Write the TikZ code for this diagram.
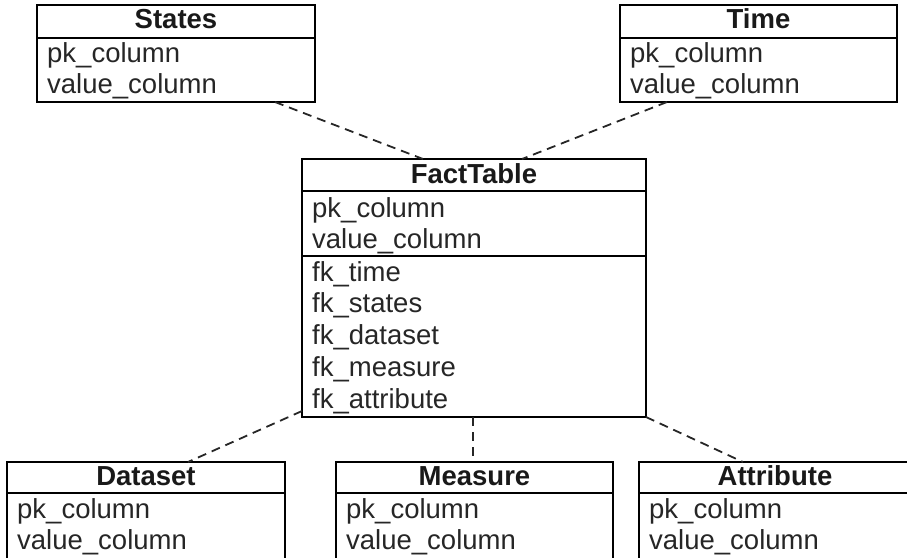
\documentclass[tikz,border=0pt]{standalone}
\usepackage{fontspec}
\setmainfont{Liberation Sans}
\usetikzlibrary{calc}
\begin{document}
\begin{tikzpicture}[x=1pt,y=-1pt,
  tbl/.style={draw=black, line width=1.5pt, rectangle, inner sep=0pt, outer sep=0pt, anchor=north west},
  sep/.style={draw=black, line width=1.5pt},
  ttl/.style={font=\fontsize{27.5}{32}\selectfont\bfseries, anchor=base, inner sep=0pt, text=black!90},
  row/.style={font=\fontsize{27.5}{32}\selectfont, anchor=base west, inner sep=0pt, text=black!85},
  rel/.style={draw=black!85, line width=1.8pt, dash pattern=on 9pt off 6pt}]
\useasboundingbox (0,0) rectangle (907,557);
\clip (0,0) rectangle (907,557);
% States
\node[tbl, minimum width=278pt, minimum height=97pt] (states) at (37,5) {};
\draw[sep] ($(states.north west)+(0,33)$) coordinate (sh) -- (sh -| states.east);
\node[ttl] (statesT) at (176,28) {States};
\node[row] (statesR1) at (47,62) {pk\_column};
\node[row] (statesR2) at (47,93) {value\_column};
% Time
\node[tbl, minimum width=277pt, minimum height=97pt] (time) at (620,5) {};
\draw[sep] ($(time.north west)+(0,33)$) coordinate (th) -- (th -| time.east);
\node[ttl] (timeT) at (758.5,28) {Time};
\node[row] (timeR1) at (630,62) {pk\_column};
\node[row] (timeR2) at (630,93) {value\_column};
% FactTable
\node[tbl, minimum width=344pt, minimum height=258pt] (fact) at (302,159) {};
\draw[sep] ($(fact.north west)+(0,32)$) coordinate (fh) -- (fh -| fact.east);
\draw[sep] ($(fact.north west)+(0,97)$) coordinate (fs) -- (fs -| fact.east);
\node[ttl] (factT) at (474,183) {FactTable};
\node[row] (factR1) at (312,217) {pk\_column};
\node[row] (factR2) at (312,248) {value\_column};
\node[row] (factR3) at (312,281) {fk\_time};
\node[row] (factR4) at (312,312) {fk\_states};
\node[row] (factR5) at (312,344) {fk\_dataset};
\node[row] (factR6) at (312,376) {fk\_measure};
\node[row] (factR7) at (312,408) {fk\_attribute};
% Dataset
\node[tbl, minimum width=278pt, minimum height=110pt] (dataset) at (7,462) {};
\draw[sep] ($(dataset.north west)+(0,31)$) coordinate (dh) -- (dh -| dataset.east);
\node[ttl] (datasetT) at (146,485) {Dataset};
\node[row] (datasetR1) at (17,518) {pk\_column};
\node[row] (datasetR2) at (17,549) {value\_column};
% Measure
\node[tbl, minimum width=277pt, minimum height=110pt] (measure) at (336,462) {};
\draw[sep] ($(measure.north west)+(0,31)$) coordinate (mh) -- (mh -| measure.east);
\node[ttl] (measureT) at (474.5,485) {Measure};
\node[row] (measureR1) at (346,518) {pk\_column};
\node[row] (measureR2) at (346,549) {value\_column};
% Attribute
\node[tbl, minimum width=272pt, minimum height=110pt] (attribute) at (639,462) {};
\draw[sep] ($(attribute.north west)+(0,31)$) coordinate (ah) -- (ah -| attribute.east);
\node[ttl] (attributeT) at (775,485) {Attribute};
\node[row] (attributeR1) at (649,518) {pk\_column};
\node[row] (attributeR2) at (649,549) {value\_column};
% connectors
\coordinate (cs1) at ($(states.south west)+(238,0)$);
\coordinate (cs2) at ($(fact.north west)+(121,0)$);
\draw[rel] (cs1) -- (cs2);
\coordinate (ct1) at ($(time.south west)+(47,0)$);
\coordinate (ct2) at ($(fact.north west)+(220,0)$);
\draw[rel] (ct1) -- (ct2);
\coordinate (cd1) at ($(fact.south west)+(0,-6)$);
\coordinate (cd2) at ($(dataset.north west)+(181,0)$);
\draw[rel] (cd1) -- (cd2);
\coordinate (cm1) at ($(fact.south west)+(171,0)$);
\coordinate (cm2) at (cm1 |- measure.north);
\draw[rel] (cm1) -- (cm2);
\coordinate (ca1) at (fact.south east);
\coordinate (ca2) at ($(attribute.north west)+(104,0)$);
\draw[rel] (ca1) -- (ca2);
\end{tikzpicture}
\end{document}
